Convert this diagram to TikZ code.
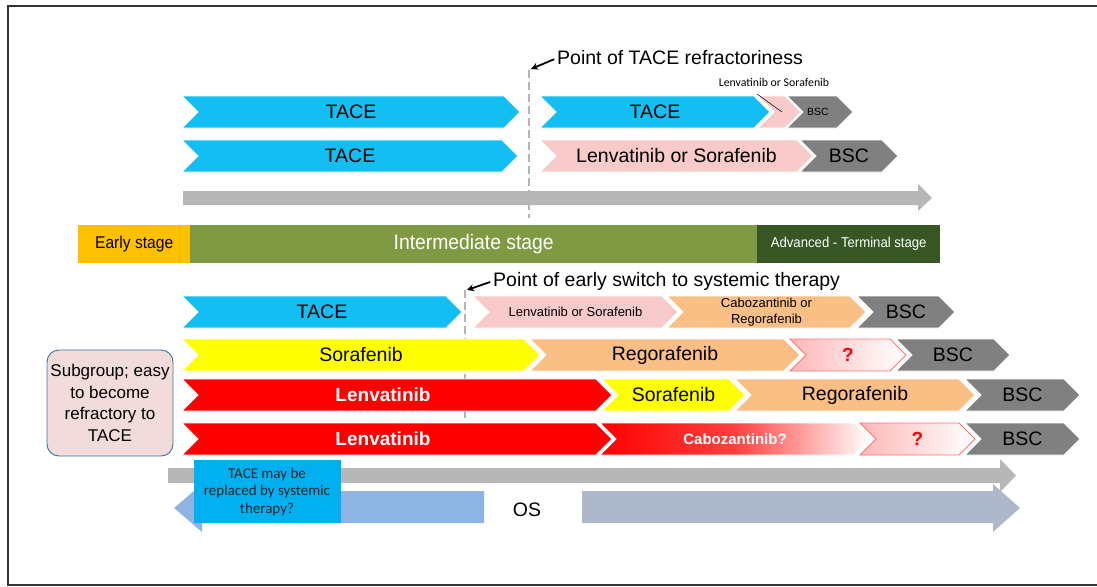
\documentclass[tikz,border=0pt]{standalone}
\usepackage{fontspec}
\setmainfont{Liberation Sans}
\newfontfamily\calibrifont{Carlito}
\newfontfamily\narrowfont[FakeStretch=0.92]{Liberation Sans}
\usetikzlibrary{arrows.meta}
\definecolor{tacec}{HTML}{12BEF2}
\definecolor{pinkc}{HTML}{F8CACA}
\definecolor{bscc}{HTML}{808080}
\definecolor{yelc}{HTML}{FFFF00}
\definecolor{orac}{HTML}{F9BF84}
\definecolor{redc}{HTML}{FF0000}
\definecolor{grayarr}{HTML}{B7B7B7}
\definecolor{earlyc}{HTML}{FFC000}
\definecolor{interc}{HTML}{7F9A43}
\definecolor{advc}{HTML}{375623}
\definecolor{osleft}{HTML}{8EB4E3}
\definecolor{osright}{HTML}{ADB9CA}
\definecolor{bluebox}{HTML}{00B0F0}
\definecolor{subfill}{HTML}{F2DCDB}
\definecolor{subdraw}{HTML}{41719C}
\definecolor{dashc}{HTML}{B4B4B4}
\definecolor{framec}{HTML}{333333}
\newcommand\chevron[7]{%
  \path[chevbase,#5] (#2,#4-16) -- (#3-16,#4-16) -- (#3,#4) -- (#3-16,#4+16) -- (#2,#4+16) -- (#2+16,#4) -- cycle;
  \node[lbl,#6] (#1) at ({(#2+#3)/2},#4) {#7};
}
\begin{document}
\begin{tikzpicture}[x=1pt,y=-1pt,
  chevbase/.style={draw=white, line width=0.8pt},
  lbl/.style={font=\fontsize{19.5}{21}\selectfont, inner sep=0pt, align=center},
  boldwhite/.style={font=\bfseries\fontsize{19}{21}\selectfont, text=white},
  qmark/.style={font=\bfseries\fontsize{19}{21}\selectfont, text=redc},
  qfill/.style={left color=redc!28, right color=white, draw=redc!55},
  dashline/.style={draw=dashc, line width=2.6pt, dash pattern=on 8pt off 4pt},
  ptarrow/.style={-{Stealth[length=7pt,width=7pt]}, line width=1.8pt, black},
  stagebox/.style={anchor=north west, inner sep=0pt, minimum height=38pt, text=white, font=\narrowfont\fontsize{17}{19}\selectfont}
]
\useasboundingbox (0,0) rectangle (1097,586);
% frame
\draw[framec, line width=1.5pt] (1097,6) -- (8,6) -- (8,585) -- (1097,585);

% ---------- upper part ----------
\coordinate (d1top) at (529,70);
\coordinate (d1bot) at (529,218);
\draw[dashline] (d1top) -- (d1bot);
\node[lbl, anchor=west] (ptr) at (557,58) {Point of TACE refractoriness};
\coordinate (a1) at (531,69);
\draw[ptarrow, shorten <=3pt] (ptr.west) -- (a1);

% row 1
\chevron{r1a}{182}{520}{112}{fill=tacec}{}{TACE}
\chevron{r1b}{540}{770}{112}{fill=tacec}{}{TACE}
\chevron{r1c}{758}{801}{112}{fill=pinkc}{}{}
\chevron{r1d}{787}{853}{112}{fill=bscc}{font=\fontsize{10.5}{12}\selectfont, xshift=-2pt}{BSC}
\node[font=\calibrifont\fontsize{11.8}{13}\selectfont, inner sep=1pt] (smlab) at (774,82) {Lenvatinib or Sorafenib};
\coordinate (smline) at (782,112);
\draw[black, line width=0.5pt] (757,94) -- (smline);

% row 2
\chevron{r2a}{182}{518}{156}{fill=tacec}{}{TACE}
\chevron{r2b}{540}{813}{156}{fill=pinkc}{}{Lenvatinib or Sorafenib}
\chevron{r2c}{800}{898}{156}{fill=bscc}{}{BSC}

% gray time arrow top
\fill[grayarr] (183,191) -- (918,191) -- (918,184) -- (932,198) -- (918,211) -- (918,205) -- (183,205) -- cycle;

% ---------- stage bar ----------
\node[stagebox, fill=earlyc, minimum width=112pt, text=black] (early) at (78,225) {Early stage};
\node[stagebox, fill=interc, minimum width=567pt, font=\narrowfont\fontsize{21}{23}\selectfont] (inter) at (190,225) {Intermediate stage};
\node[stagebox, fill=advc, minimum width=183pt, font=\narrowfont\fontsize{14.3}{16}\selectfont] (adv) at (757,225) {Advanced - Terminal stage};

% ---------- lower part ----------
\coordinate (d2top) at (465,290);
\coordinate (d2bot) at (465,420);
\draw[dashline] (d2top) -- (d2bot);
\node[lbl, anchor=west] (pes) at (493,281) {Point of early switch to systemic therapy};
\coordinate (a2) at (467,290);
\draw[ptarrow, shorten <=3pt] (pes.west) -- (a2);

% row A
\chevron{rAa}{182}{462}{312}{fill=tacec}{}{TACE}
\chevron{rAb}{473}{678}{312}{fill=pinkc}{font=\fontsize{13}{15}\selectfont}{Lenvatinib or Sorafenib}
\chevron{rAc}{667}{866}{312}{fill=orac}{font=\fontsize{13}{16}\selectfont}{Cabozantinib or\\Regorafenib}
\chevron{rAd}{857}{955}{312}{fill=bscc}{}{BSC}

% row B
\chevron{rBa}{182}{540}{355}{fill=yelc}{}{Sorafenib}
\chevron{rBb}{530}{800}{355}{fill=orac}{}{Regorafenib}
\chevron{rBc}{790}{906}{355}{qfill}{qmark}{?}
\chevron{rBd}{896}{1010}{355}{fill=bscc}{}{BSC}

% row C
\chevron{rCa}{182}{612}{395}{fill=redc}{boldwhite, xshift=-14pt}{Lenvatinib}
\chevron{rCb}{602}{745}{395}{fill=yelc}{}{Sorafenib}
\chevron{rCc}{735}{975}{395}{fill=orac}{}{Regorafenib}
\chevron{rCd}{965}{1080}{395}{fill=bscc}{}{BSC}

% row D
\chevron{rDa}{182}{612}{439}{fill=redc}{boldwhite, xshift=-14pt}{Lenvatinib}
\chevron{rDb}{600}{870}{439}{left color=redc, right color=white, middle color=redc!75!white, draw=white}{font=\bfseries\fontsize{15}{17}\selectfont, text=white}{Cabozantinib?}
\chevron{rDc}{860}{975}{439}{qfill}{qmark}{?}
\chevron{rDd}{965}{1080}{439}{fill=bscc}{}{BSC}

% subgroup box
\node[draw=subdraw, fill=subfill, line width=0.9pt, rounded corners=12pt, minimum width=126pt, minimum height=106pt, inner sep=0pt, align=center, font=\fontsize{17}{21.5}\selectfont] (sub) at (110,403) {Subgroup; easy\\to become\\refractory to\\TACE};

% bottom gray arrow
\fill[grayarr] (168,468) -- (1000,468) -- (1000,459) -- (1016,475.5) -- (1000,492) -- (1000,483) -- (168,483) -- cycle;

% OS arrows
\fill[osleft] (174,508) -- (202,484) -- (202,491) -- (484,491) -- (484,523) -- (202,523) -- (202,532) -- cycle;
\fill[osright] (582,491) -- (993,491) -- (993,484) -- (1020,508) -- (993,532) -- (993,523) -- (582,523) -- cycle;
\node[lbl, font=\fontsize{19.5}{21}\selectfont] (os) at (527,510) {OS};

% blue box
\node[fill=bluebox, minimum width=147pt, minimum height=63pt, inner sep=0pt, align=center, text=black!85, font=\calibrifont\fontsize{15}{17.5}\selectfont] (tbox) at (267,491.5) {TACE may be\\replaced by systemic\\therapy?};
\end{tikzpicture}
\end{document}
